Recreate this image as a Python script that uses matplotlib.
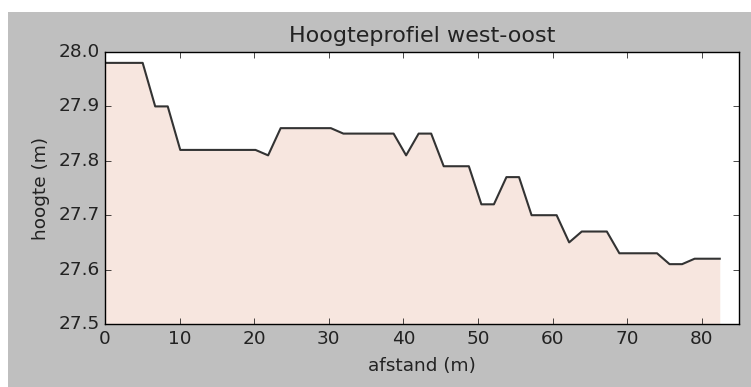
import numpy as np
import matplotlib
matplotlib.use('Agg')
import matplotlib.pyplot as plt
from matplotlib.patches import Rectangle

plt.style.use('classic')

# afstand langs het profiel (m) en hoogte (m)
afstand = [0.0, 1.68, 3.36, 5.05, 6.73, 8.41, 10.09, 11.77, 13.46, 15.14,
           16.82, 18.50, 20.18, 21.87, 23.55, 25.23, 26.91, 28.59, 30.28, 31.96,
           33.64, 35.32, 37.00, 38.69, 40.37, 42.05, 43.73, 45.41, 47.10, 48.78,
           50.46, 52.14, 53.82, 55.51, 57.19, 58.87, 60.55, 62.23, 63.92, 65.60,
           67.28, 68.96, 70.64, 72.33, 74.01, 75.69, 77.37, 79.05, 80.74, 82.42]
hoogte = [27.98, 27.98, 27.98, 27.98, 27.90, 27.90, 27.82, 27.82, 27.82, 27.82,
          27.82, 27.82, 27.82, 27.81, 27.86, 27.86, 27.86, 27.86, 27.86, 27.85,
          27.85, 27.85, 27.85, 27.85, 27.81, 27.85, 27.85, 27.79, 27.79, 27.79,
          27.72, 27.72, 27.77, 27.77, 27.70, 27.70, 27.70, 27.65, 27.67, 27.67,
          27.67, 27.63, 27.63, 27.63, 27.63, 27.61, 27.61, 27.62, 27.62, 27.62]
basis = 27.5

fig = plt.figure(figsize=(7.51, 3.87), dpi=100, facecolor='white')
# grijze achtergrond met smalle witte rand links en boven
fig.patches.append(Rectangle((8 / 751, 0), 1, (387 - 12) / 387,
                             transform=fig.transFigure, facecolor='#bfbfbf',
                             edgecolor='none', zorder=-1))

ax = fig.add_axes([105 / 751, (387 - 324) / 387, (739 - 105) / 751, (324 - 52) / 387])
ax.fill_between(afstand, hoogte, basis, color='#f7e6df', linewidth=0)
ax.plot(afstand, hoogte, color='#333333', linewidth=1.5)

ax.set_xlim(0, 85)
ax.set_ylim(27.5, 28.0)
ax.set_xticks(np.arange(0, 81, 10))
ax.set_yticks([27.5, 27.6, 27.7, 27.8, 27.9, 28.0])
ax.tick_params(labelsize=13.3, labelcolor='#222222')
ax.set_title('Hoogteprofiel west-oost', fontsize=16, pad=7, color='#222222')
ax.set_xlabel('afstand (m)', fontsize=13.3, labelpad=7, color='#222222')
ax.set_ylabel('hoogte (m)', fontsize=13.3, labelpad=6, color='#222222')

fig.savefig('out.png', dpi=100, facecolor=fig.get_facecolor())
